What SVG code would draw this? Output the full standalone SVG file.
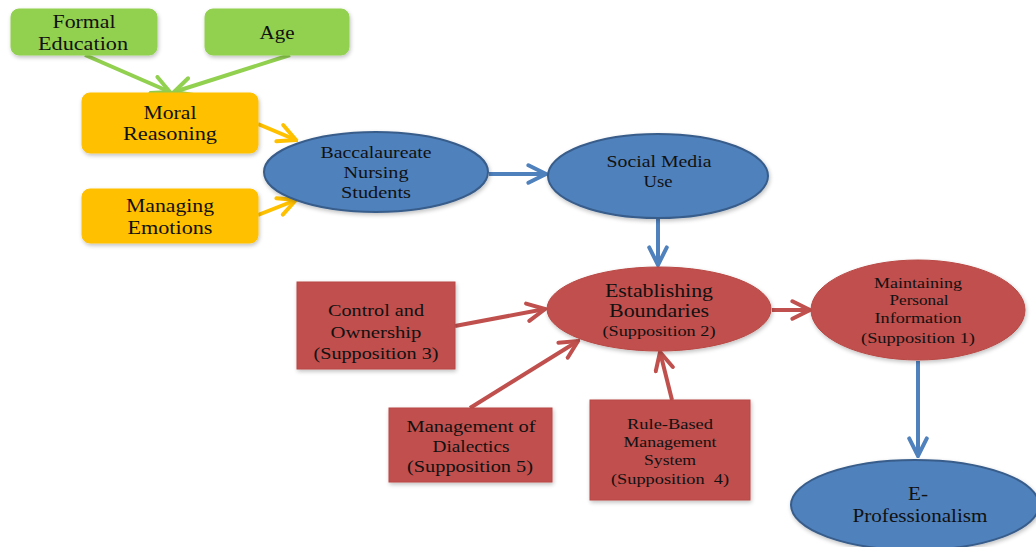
<svg xmlns="http://www.w3.org/2000/svg" width="1036" height="547" viewBox="0 0 1036 547" font-family="Liberation Serif, DejaVu Serif, serif">
<style>
text{fill:#111;text-anchor:middle}
.g{fill:#92d050;stroke:#92d050}
.o{fill:#ffc000;stroke:#ffc000}
.b{fill:#4f81bd;stroke:#385d8a;stroke-width:2}
.rr{fill:#c0504d;stroke:#b84845;stroke-width:1}
.c{fill:none;stroke-width:4}
</style>
<defs>
<filter id="sh" x="-10%" y="-10%" width="125%" height="130%"><feGaussianBlur in="SourceAlpha" stdDeviation="2"/><feOffset dx="1" dy="2"/><feComponentTransfer><feFuncA type="linear" slope="0.25"/></feComponentTransfer><feMerge><feMergeNode/><feMergeNode in="SourceGraphic"/></feMerge></filter>
<marker id="ag" viewBox="0 0 10 10" refX="9" refY="5" markerWidth="5.5" markerHeight="5.5" orient="auto" markerUnits="strokeWidth"><path d="M1,1 L9,5 L1,9" fill="none" stroke="#92d050" stroke-width="1.8" stroke-linecap="round"/></marker>
<marker id="ao" viewBox="0 0 10 10" refX="9" refY="5" markerWidth="5.5" markerHeight="5.5" orient="auto" markerUnits="strokeWidth"><path d="M1,1 L9,5 L1,9" fill="none" stroke="#ffc000" stroke-width="1.8" stroke-linecap="round"/></marker>
<marker id="ab" viewBox="0 0 10 10" refX="9" refY="5" markerWidth="5.5" markerHeight="5.5" orient="auto" markerUnits="strokeWidth"><path d="M1,1 L9,5 L1,9" fill="none" stroke="#4f81bd" stroke-width="1.8" stroke-linecap="round"/></marker>
<marker id="ar" viewBox="0 0 10 10" refX="9" refY="5" markerWidth="5.5" markerHeight="5.5" orient="auto" markerUnits="strokeWidth"><path d="M1,1 L9,5 L1,9" fill="none" stroke="#c0504d" stroke-width="1.8" stroke-linecap="round"/></marker>
</defs>
<rect width="1036" height="547" fill="#fff"/>
<g id="connectors">
<line class="c" x1="85" y1="55" x2="170" y2="92" stroke="#92d050" marker-end="url(#ag)"/>
<line class="c" x1="290" y1="55" x2="174" y2="92" stroke="#92d050" marker-end="url(#ag)"/>
<line class="c" x1="258" y1="124" x2="296" y2="140" stroke="#ffc000" marker-end="url(#ao)"/>
<line class="c" x1="258" y1="215" x2="296" y2="200" stroke="#ffc000" marker-end="url(#ao)"/>
<line class="c" x1="489" y1="174" x2="546" y2="174" stroke="#4f81bd" marker-end="url(#ab)"/>
<line class="c" x1="658" y1="219" x2="658" y2="265" stroke="#4f81bd" marker-end="url(#ab)"/>
<line class="c" x1="918" y1="361" x2="918" y2="456" stroke="#4f81bd" marker-end="url(#ab)"/>
<line class="c" x1="772" y1="310" x2="810" y2="310" stroke="#c0504d" marker-end="url(#ar)"/>
<line class="c" x1="455" y1="326" x2="545" y2="309" stroke="#c0504d" marker-end="url(#ar)"/>
<line class="c" x1="470" y1="408" x2="578" y2="341" stroke="#c0504d" marker-end="url(#ar)"/>
<line class="c" x1="672" y1="400" x2="660" y2="352" stroke="#c0504d" marker-end="url(#ar)"/>
</g>
<g id="formal-education"><rect class="g" filter="url(#sh)" x="11" y="9" width="146" height="46" rx="8"/><text x="84" y="28" font-size="19" textLength="63" lengthAdjust="spacingAndGlyphs">Formal</text><text x="83" y="50" font-size="19" textLength="90" lengthAdjust="spacingAndGlyphs">Education</text></g>
<g id="age"><rect class="g" filter="url(#sh)" x="205" y="9" width="144" height="46" rx="8"/><text x="277" y="39" font-size="19" textLength="35" lengthAdjust="spacingAndGlyphs">Age</text></g>
<g id="moral-reasoning"><rect class="o" filter="url(#sh)" x="82" y="93" width="176" height="60" rx="8"/><text x="170" y="119" font-size="19" textLength="53" lengthAdjust="spacingAndGlyphs">Moral</text><text x="170" y="140" font-size="19" textLength="94" lengthAdjust="spacingAndGlyphs">Reasoning</text></g>
<g id="managing-emotions"><rect class="o" filter="url(#sh)" x="82" y="189" width="176" height="54" rx="8"/><text x="170" y="212" font-size="19" textLength="88" lengthAdjust="spacingAndGlyphs">Managing</text><text x="170" y="234" font-size="19" textLength="85" lengthAdjust="spacingAndGlyphs">Emotions</text></g>
<g id="baccalaureate"><ellipse class="b" filter="url(#sh)" cx="376" cy="172" rx="112" ry="40"/><text x="376" y="158" font-size="16" textLength="111" lengthAdjust="spacingAndGlyphs">Baccalaureate</text><text x="376" y="178" font-size="16" textLength="65" lengthAdjust="spacingAndGlyphs">Nursing</text><text x="376" y="198" font-size="16" textLength="70" lengthAdjust="spacingAndGlyphs">Students</text></g>
<g id="social-media"><ellipse class="b" filter="url(#sh)" cx="658" cy="176" rx="110" ry="42"/><text x="659" y="167" font-size="16" textLength="105" lengthAdjust="spacingAndGlyphs">Social Media</text><text x="658" y="187" font-size="16" textLength="29" lengthAdjust="spacingAndGlyphs">Use</text></g>
<g id="establishing-boundaries"><ellipse class="rr" filter="url(#sh)" cx="659" cy="309" rx="112" ry="42"/><text x="659" y="297" font-size="18" textLength="108" lengthAdjust="spacingAndGlyphs">Establishing</text><text x="659" y="317" font-size="18" textLength="100" lengthAdjust="spacingAndGlyphs">Boundaries</text><text x="659" y="336" font-size="15" textLength="113" lengthAdjust="spacingAndGlyphs">(Supposition 2)</text></g>
<g id="maintaining-personal"><ellipse class="rr" filter="url(#sh)" cx="918" cy="310" rx="107" ry="50"/><text x="918" y="288" font-size="14" textLength="88" lengthAdjust="spacingAndGlyphs">Maintaining</text><text x="919" y="305" font-size="14" textLength="59" lengthAdjust="spacingAndGlyphs">Personal</text><text x="918" y="323" font-size="14" textLength="87" lengthAdjust="spacingAndGlyphs">Information</text><text x="918" y="343" font-size="15" textLength="114" lengthAdjust="spacingAndGlyphs">(Supposition 1)</text></g>
<g id="e-professionalism"><ellipse class="b" filter="url(#sh)" cx="915" cy="505" rx="124" ry="45"/><text x="918" y="500" font-size="18" textLength="20" lengthAdjust="spacingAndGlyphs">E-</text><text x="920" y="522" font-size="18" textLength="135" lengthAdjust="spacingAndGlyphs">Professionalism</text></g>
<g id="control-ownership"><rect class="rr" filter="url(#sh)" x="297" y="282" width="158" height="87"/><text x="376" y="316" font-size="16" textLength="96" lengthAdjust="spacingAndGlyphs">Control and</text><text x="376" y="338" font-size="16" textLength="91" lengthAdjust="spacingAndGlyphs">Ownership</text><text x="376" y="359" font-size="16" textLength="125" lengthAdjust="spacingAndGlyphs">(Supposition 3)</text></g>
<g id="management-dialectics"><rect class="rr" filter="url(#sh)" x="389" y="408" width="163" height="74"/><text x="471" y="432" font-size="16" textLength="129" lengthAdjust="spacingAndGlyphs">Management of</text><text x="471" y="452" font-size="16" textLength="77" lengthAdjust="spacingAndGlyphs">Dialectics</text><text x="470" y="472" font-size="16" textLength="126" lengthAdjust="spacingAndGlyphs">(Supposition 5)</text></g>
<g id="rule-based"><rect class="rr" filter="url(#sh)" x="590" y="400" width="160" height="100"/><text x="670" y="429" font-size="14" textLength="86" lengthAdjust="spacingAndGlyphs">Rule-Based</text><text x="670" y="447" font-size="14" textLength="93" lengthAdjust="spacingAndGlyphs">Management</text><text x="670" y="465" font-size="14" textLength="52" lengthAdjust="spacingAndGlyphs">System</text><text x="670" y="484" font-size="15" textLength="118" lengthAdjust="spacingAndGlyphs" xml:space="preserve">(Supposition  4)</text></g>
</svg>
